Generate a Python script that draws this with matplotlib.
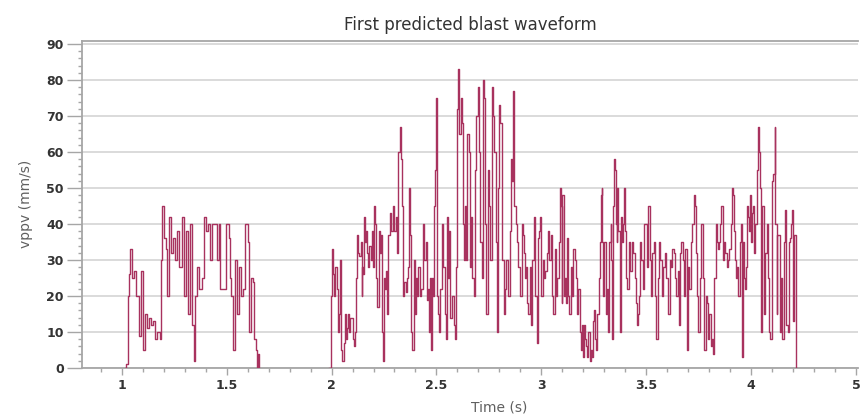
import matplotlib
matplotlib.use("Agg")
import matplotlib.pyplot as plt
from matplotlib.ticker import FixedLocator, FixedFormatter, MultipleLocator

# First burst of the predicted waveform (time in s, peak particle velocity in mm/s)
burst1_time = [1.015, 1.02, 1.03, 1.035, 1.04, 1.05, 1.06, 1.07, 1.08, 1.09, 1.10, 1.11,
               1.12, 1.13, 1.14, 1.15, 1.16, 1.17, 1.18, 1.185, 1.19, 1.20, 1.21, 1.215,
               1.225, 1.235, 1.245, 1.255, 1.265, 1.275, 1.285, 1.295, 1.305, 1.315, 1.325,
               1.335, 1.345, 1.35, 1.36, 1.37, 1.38, 1.39, 1.40, 1.41, 1.42, 1.43, 1.45,
               1.455, 1.465, 1.47, 1.49, 1.495, 1.505, 1.51, 1.515, 1.52, 1.53, 1.54, 1.55,
               1.56, 1.57, 1.58, 1.585, 1.60, 1.605, 1.615, 1.625, 1.63, 1.64, 1.645, 1.65,
               1.652]
burst1_vppv = [0, 1, 20, 26, 33, 25, 27, 20, 9, 27, 5, 15,
               11, 14, 12, 13, 8, 10, 8, 30, 45, 36, 33, 20,
               42, 32, 36, 30, 38, 28, 42, 20, 38, 15, 40,
               12, 2, 20, 28, 22, 25, 42, 38, 40, 30, 40, 40,
               30, 40, 22, 22, 40, 40, 36, 25, 20, 5, 30, 15,
               28, 20, 22, 40, 35, 10, 25, 24, 8, 5, 0, 4,
               0]

# Second burst of the predicted waveform
burst2_time = [1.99, 1.995, 2.0, 2.005, 2.01, 2.017, 2.024, 2.03, 2.035, 2.04, 2.047, 2.052,
               2.057, 2.062, 2.068, 2.074, 2.08, 2.085, 2.09, 2.1, 2.107, 2.113, 2.118, 2.122,
               2.127, 2.133, 2.139, 2.143, 2.147, 2.151, 2.155, 2.159, 2.163, 2.168, 2.174,
               2.18, 2.186, 2.192, 2.198, 2.202, 2.207, 2.212, 2.218, 2.224, 2.229, 2.234,
               2.24, 2.246, 2.25, 2.255, 2.26, 2.265, 2.271, 2.277, 2.285, 2.295, 2.3, 2.307,
               2.313, 2.318, 2.324, 2.33, 2.336, 2.341, 2.347, 2.353, 2.36, 2.366, 2.37, 2.375,
               2.38, 2.385, 2.391, 2.397, 2.403, 2.408, 2.414, 2.42, 2.428, 2.436, 2.442,
               2.448, 2.454, 2.459, 2.464, 2.469, 2.474, 2.479, 2.485, 2.489, 2.493, 2.497,
               2.501, 2.506, 2.512, 2.519, 2.526, 2.532, 2.539, 2.546, 2.551, 2.556, 2.561,
               2.566, 2.575, 2.583, 2.589, 2.594, 2.599, 2.604, 2.609, 2.615, 2.621, 2.627,
               2.632, 2.636, 2.641, 2.647, 2.653, 2.659, 2.664, 2.671, 2.678, 2.685, 2.691,
               2.697, 2.703, 2.71, 2.716, 2.721, 2.726, 2.731, 2.737, 2.745, 2.752, 2.757,
               2.763, 2.77, 2.776, 2.782, 2.788, 2.793, 2.799, 2.805, 2.811, 2.82, 2.827,
               2.834, 2.843, 2.849, 2.855, 2.86, 2.865, 2.871, 2.877, 2.883, 2.89, 2.897,
               2.903, 2.908, 2.913, 2.918, 2.922, 2.928, 2.933, 2.938, 2.944, 2.951, 2.958,
               2.963, 2.97, 2.978, 2.982, 2.99, 2.995, 3.0, 3.006, 3.013, 3.02, 3.025, 3.032,
               3.038, 3.045, 3.05, 3.057, 3.064, 3.07, 3.077, 3.084, 3.09, 3.094, 3.097,
               3.101, 3.106, 3.112, 3.117, 3.121, 3.125, 3.129, 3.134, 3.142, 3.148, 3.153,
               3.16, 3.167, 3.171, 3.177, 3.183, 3.188, 3.194, 3.2, 3.204, 3.209, 3.214,
               3.219, 3.225, 3.23, 3.235, 3.241, 3.246, 3.251, 3.257, 3.263, 3.267, 3.273,
               3.279, 3.283, 3.287, 3.291, 3.296, 3.301, 3.307, 3.311, 3.318, 3.325, 3.33,
               3.334, 3.338, 3.342, 3.346, 3.351, 3.356, 3.36, 3.363, 3.368, 3.373, 3.378,
               3.384, 3.389, 3.393, 3.399, 3.405, 3.41, 3.418, 3.425, 3.431, 3.438, 3.445,
               3.45, 3.456, 3.461, 3.465, 3.47, 3.477, 3.484, 3.489, 3.496, 3.503, 3.509,
               3.516, 3.523, 3.53, 3.537, 3.544, 3.549, 3.556, 3.563, 3.568, 3.575, 3.582,
               3.589, 3.596, 3.602, 3.606, 3.613, 3.62, 3.625, 3.632, 3.639, 3.644, 3.651,
               3.658, 3.662, 3.668, 3.674, 3.679, 3.686, 3.693, 3.699, 3.706, 3.713, 3.72,
               3.726, 3.732, 3.737, 3.742, 3.749, 3.756, 3.763, 3.77, 3.776, 3.783, 3.79,
               3.797, 3.801, 3.808, 3.815, 3.819, 3.825, 3.832, 3.837, 3.843, 3.848, 3.852,
               3.858, 3.864, 3.869, 3.876, 3.883, 3.889, 3.896, 3.903, 3.909, 3.914, 3.919,
               3.924, 3.929, 3.935, 3.94, 3.945, 3.95, 3.955, 3.96, 3.965, 3.97, 3.975, 3.98,
               3.985, 3.99, 3.996, 4.001, 4.006, 4.011, 4.015, 4.021, 4.027, 4.031, 4.037,
               4.043, 4.047, 4.054, 4.06, 4.067, 4.074, 4.079, 4.085, 4.091, 4.095, 4.1,
               4.106, 4.112, 4.116, 4.122, 4.126, 4.133, 4.138, 4.143, 4.149, 4.155, 4.161,
               4.165, 4.17, 4.174, 4.18, 4.186, 4.19, 4.195, 4.2, 4.205, 4.212]
burst2_vppv = [0, 20, 33, 26, 20, 28, 22, 10, 15, 30, 5, 2,
               7, 15, 8, 11, 15, 10, 14, 8, 6, 10, 25, 37,
               32, 31, 35, 20, 28, 26, 42, 35, 38, 32, 28,
               34, 30, 38, 28, 45, 40, 25, 17, 38, 32, 37,
               10, 2, 25, 22, 27, 15, 37, 43, 38, 45, 38, 42,
               32, 60, 67, 58, 45, 20, 24, 21, 25, 28, 50, 37,
               10, 5, 30, 15, 25, 20, 28, 20, 22, 40, 30,
               35, 19, 22, 10, 25, 5, 25, 20, 45, 55, 75,
               20, 15, 10, 22, 40, 28, 15, 8, 42, 25, 38,
               14, 20, 12, 8, 28, 72, 83, 65, 75, 68, 40,
               30, 45, 30, 65, 60, 28, 42, 25, 20, 55, 70,
               78, 60, 35, 25, 80, 75, 40, 15, 55, 45, 30,
               78, 70, 60, 35, 10, 50, 73, 68, 30, 15, 22,
               30, 20, 38, 58, 52, 77, 45, 40, 35, 28, 20,
               20, 40, 37, 32, 25, 28, 18, 15, 28, 12, 30,
               42, 20, 7, 36, 38, 42, 20, 30, 25, 27, 32, 38,
               30, 37, 20, 15, 33, 20, 25, 35, 50, 45, 18,
               48, 20, 25, 18, 36, 25, 20, 15, 28, 20, 33,
               30, 25, 15, 22, 10, 5, 12, 3, 12, 8, 6,
               3, 10, 2, 5, 3, 13, 16, 8, 5, 15, 25,
               35, 48, 50, 35, 20, 35, 15, 22, 10, 35, 40,
               30, 8, 45, 58, 55, 40, 35, 50, 38, 10, 42,
               35, 40, 50, 38, 25, 22, 35, 27, 35, 32, 25,
               18, 12, 15, 20, 35, 30, 22, 40, 40, 28, 45,
               30, 20, 32, 35, 20, 8, 25, 35, 30, 20, 28,
               32, 25, 18, 15, 30, 28, 33, 32, 25, 20, 27,
               12, 32, 35, 30, 20, 33, 5, 28, 22, 35, 40,
               48, 45, 32, 20, 10, 25, 40, 25, 5, 20, 18,
               8, 15, 6, 8, 4, 25, 40, 35, 33, 35, 40,
               45, 30, 35, 32, 28, 30, 33, 40, 50, 48, 38,
               30, 25, 28, 20, 35, 40, 3, 35, 25, 22, 28, 45,
               42, 38, 48, 35, 43, 45, 32, 40, 55, 67, 60,
               50, 10, 45, 15, 32, 40, 25, 10, 8, 8, 52,
               54, 67, 40, 15, 37, 37, 10, 25, 8, 35, 44,
               12, 12, 10, 35, 36, 40, 44, 13, 37, 0]

x_ticks = [1, 1.5, 2, 2.5, 3, 3.5, 4, 4.5]
x_tick_labels = ["1", "1.5", "2", "2.5", "3", "3.5", "4", "5"]
y_ticks = [0, 10, 20, 30, 40, 50, 60, 70, 80, 90]

line_color = "#a8325e"
axis_gray = "#a6a6a6"

fig = plt.figure(figsize=(8.6, 4.19), dpi=100)
ax = fig.add_axes([0.0953, 0.1217, 0.9024, 0.7812])

for t, v in ((burst1_time, burst1_vppv), (burst2_time, burst2_vppv)):
    ax.plot(t, v, drawstyle="steps-post", color=line_color, lw=1.0, zorder=3)

ax.set_xlim(0.81, 4.51)
ax.set_ylim(0, 90.9)

ax.xaxis.set_major_locator(FixedLocator(x_ticks))
ax.xaxis.set_major_formatter(FixedFormatter(x_tick_labels))
ax.xaxis.set_minor_locator(MultipleLocator(0.1))
ax.yaxis.set_major_locator(FixedLocator(y_ticks))
ax.yaxis.set_minor_locator(MultipleLocator(2))

ax.grid(axis="y", which="major", color="#d4d4d4", lw=1.2, zorder=0)
ax.set_axisbelow(True)

for side in ("left", "bottom", "top"):
    ax.spines[side].set_color(axis_gray)
    ax.spines[side].set_linewidth(1.3)
ax.spines["right"].set_visible(False)

ax.tick_params(axis="y", which="major", length=11, width=1, color=axis_gray,
               labelsize=9, labelcolor="#333333", pad=2)
ax.tick_params(axis="y", which="minor", length=3, width=1, color=axis_gray)
ax.tick_params(axis="x", which="major", length=5, width=1, color=axis_gray,
               labelsize=9, labelcolor="#333333", pad=3)
ax.tick_params(axis="x", which="minor", length=3, width=1, color=axis_gray)
for lab in ax.get_xticklabels() + ax.get_yticklabels():
    lab.set_fontweight("bold")

ax.set_title("First predicted blast waveform", fontsize=12, color="#333333", pad=8)
ax.set_ylabel("vppv (mm/s)", fontsize=10, color="#606060", labelpad=10)
ax.set_xlabel("Time (s)", fontsize=10, color="#606060")
ax.xaxis.set_label_coords(0.537, -0.1)

fig.savefig("out.png", dpi=100)
